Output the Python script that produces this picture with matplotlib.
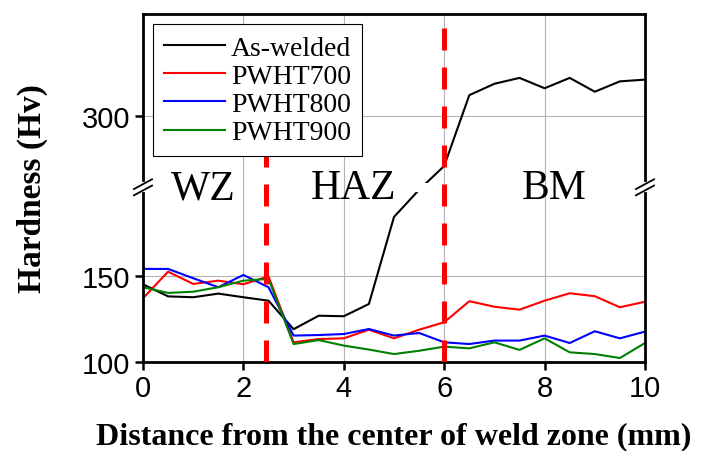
import numpy as np
import matplotlib
matplotlib.use("Agg")
import matplotlib.pyplot as plt
from matplotlib.path import Path
import matplotlib.transforms as mtransforms

# distance from the weld centre (mm)
dist = [0, 0.5, 1, 1.5, 2, 2.5, 3, 3.5, 4, 4.5, 5, 5.5, 6, 6.5, 7, 7.5, 8, 8.5, 9, 9.5, 10]

as_welded = [145, 138, 137.5, 139.6, 137.5, 135.5, 119, 126.8, 126.5, 133.6, 184, 215,
             271, 312, 318.6, 322, 316, 322, 314, 320, 321]
pwht700 = [136.9, 152.3, 145.2, 147.1, 145, 149.6, 111.4, 113.3, 113.7, 118.7, 113.7, 118.7,
           123, 135.2, 132, 130.3, 135.5, 139.8, 138.1, 131.7, 134.9]
pwht800 = [153.9, 153.9, 148.5, 143.3, 150.4, 143.3, 115.3, 115.6, 116.2, 119.1, 115.3, 116.8,
           111.4, 110.4, 112.4, 112.4, 115.3, 111, 117.8, 113.7, 117.6]
pwht900 = [143.3, 140, 140.7, 143.3, 147.1, 148.1, 110.4, 112.7, 109.5, 107.2, 104.6, 106.5,
           108.9, 107.9, 111.4, 107, 113.7, 105.6, 104.6, 102.3, 111]

series = [("As-welded", as_welded, "black"),
          ("PWHT700", pwht700, "#ff0000"),
          ("PWHT800", pwht800, "#0000ff"),
          ("PWHT900", pwht900, "#008000")]

zones = [("WZ", 1.2), ("HAZ", 4.2), ("BM", 8.2)]
boundaries = [2.45, 6.0]

# axis break: values between B1 and B2 squeezed into G units
B1, B2, G = 198.0, 262.0, 6.5


def forward(y):
    y = np.asarray(y, dtype=float)
    return np.where(y <= B1, y,
                    np.where(y >= B2, y - (B2 - B1) + G, B1 + (y - B1) * G / (B2 - B1)))


def inverse(t):
    t = np.asarray(t, dtype=float)
    return np.where(t <= B1, t,
                    np.where(t >= B1 + G, t + (B2 - B1) - G, B1 + (t - B1) * (B2 - B1) / G))


fig = plt.figure(figsize=(7.09, 4.52), dpi=100)
ax = fig.add_axes([143 / 709, 1 - 363 / 452, 502 / 709, 348 / 452])
ax.set_yscale("function", functions=(forward, inverse))

# clip region leaving a gap at the break (only the curves are cut)
clip = Path.make_compound_path(
    Path([[0, 0], [1, 0], [1, B1 + 4], [0, B1 + 4], [0, 0]], closed=True),
    Path([[0, B2 - 8], [1, B2 - 8], [1, 1000], [0, 1000], [0, B2 - 8]], closed=True))
clip_tr = mtransforms.blended_transform_factory(ax.transAxes, ax.transData)

for name, vals, col in series:
    ln, = ax.plot(dist, vals, color=col, lw=1.5, label=name, zorder=2)
    ln.set_clip_path(clip, clip_tr)

for xb in boundaries:
    ax.axvline(xb, color="#ff0000", lw=3.6, dashes=(4.4, 3.4), zorder=3)

ax.set_xlim(0, 10)
ax.set_ylim(100, 359)
ax.set_xticks([0, 2, 4, 6, 8, 10])
ax.set_yticks([100, 150, 300])
ax.yaxis.set_minor_locator(matplotlib.ticker.NullLocator())
ax.grid(True, color="#b4b4b4", lw=0.8)
ax.set_axisbelow(True)

for s in ax.spines.values():
    s.set_linewidth(2)
ax.tick_params(direction="out", length=6, width=1.8, labelsize=21, pad=3)
for lab in ax.get_xticklabels() + ax.get_yticklabels():
    lab.set_family("Liberation Sans")

xt = ax.get_xaxis_transform()
for name, xz in zones:
    ax.text(xz, 0.5, name, transform=xt, ha="center", va="center",
            family="Liberation Serif", fontsize=30, zorder=4)

# break marks on both spines
yb = 0.502
for xs in (0, 1):
    ax.plot([xs, xs], [yb - 0.009, yb + 0.009], color="white", lw=3,
            transform=ax.transAxes, clip_on=False, zorder=5)
    for dy in (-0.009, 0.009):
        ax.plot([xs - 0.018, xs + 0.018], [yb + dy - 0.014, yb + dy + 0.014], color="black",
                lw=1.3, transform=ax.transAxes, clip_on=False, zorder=6)

leg = ax.legend(loc="upper left", bbox_to_anchor=(153 / 709, 1 - 25 / 452),
                bbox_transform=fig.transFigure, borderaxespad=0,
                prop={"family": "Liberation Serif", "size": 20},
                handlelength=2.2, handletextpad=0.2, labelspacing=0.1,
                borderpad=0.4, fancybox=False, framealpha=1)
leg.get_frame().set_edgecolor("black")
leg.get_frame().set_linewidth(0.8)
leg.set_zorder(7)

ax.set_xlabel("Distance from the center of weld zone (mm)", family="Liberation Serif",
              fontweight="bold", fontsize=23)
ax.set_ylabel("Hardness (Hv)", family="Liberation Serif", fontweight="bold", fontsize=24)
ax.xaxis.set_label_coords(0.5, -0.17)
ax.yaxis.set_label_coords(-0.19, 0.5)

fig.savefig("out.png", dpi=100)
